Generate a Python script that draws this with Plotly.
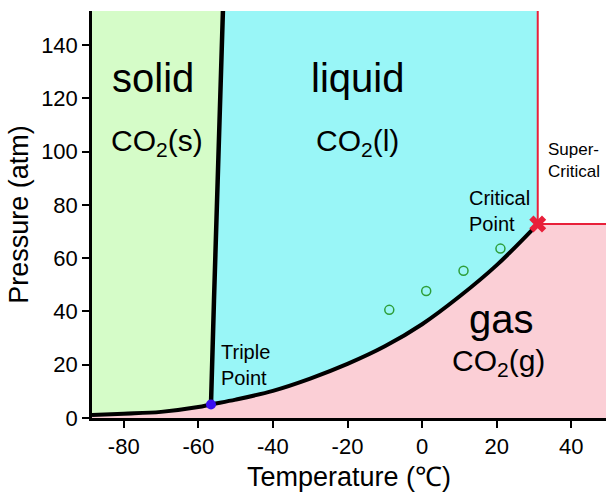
import plotly.graph_objects as go

# --- CO2 phase diagram data (temperature in °C, pressure in atm) ---
X_MIN, X_MAX = -88.5, 49.3
Y_MIN, Y_MAX = 0.0, 152.8

triple_T, triple_P = -56.6, 5.1
crit_T, crit_P = 31.0, 72.8

# solid / gas boundary (sublimation curve)
sub_T = [-88.5, -80, -70, -60, -56.6]
sub_P = [1.1, 1.6, 2.3, 4.1, 5.1]

# liquid / gas boundary (vaporization curve)
vap_T = [-56.6, -50, -40, -30, -20, -10, 0, 10, 20, 31]
vap_P = [5.1, 6.9, 10.2, 14.8, 20.3, 26.9, 35.2, 45.6, 57.4, 72.8]

# solid / liquid boundary (melting curve)
melt_T = [-56.6, -55.8, -53.4]
melt_P = [5.1, 44.0, 152.8]

# measured vapor-pressure points
meas_T = [-8.8, 1.1, 11.1, 21.0]
meas_P = [40.6, 47.7, 55.3, 63.6]

x_ticks = [-80, -60, -40, -20, 0, 20, 40]
y_ticks = [0, 20, 40, 60, 80, 100, 120, 140]

GREEN = "#d5fcc8"
CYAN = "#99f6f7"
PINK = "#fbcfd6"
RED = "#e8203a"
FONT = "Liberation Sans, Arial, sans-serif"

fig = go.Figure()

# gas region: below sublimation + vaporization curves, and below Pc past Tc
gas_x = sub_T + vap_T[1:] + [X_MAX + 5, X_MAX + 5, X_MIN - 5, X_MIN - 5]
gas_y = sub_P + vap_P[1:] + [crit_P, Y_MIN - 5, Y_MIN - 5, sub_P[0]]
fig.add_trace(go.Scatter(x=gas_x, y=gas_y, fill="toself", fillcolor=PINK,
                         mode="none", hoverinfo="skip"))

# solid region: left of melting curve, above sublimation curve
solid_x = [X_MIN - 5, X_MIN - 5] + sub_T[1:] + melt_T[1:] + [X_MIN - 5]
solid_y = [Y_MAX + 5, sub_P[0]] + sub_P[1:] + melt_P[1:] + [Y_MAX + 5]
fig.add_trace(go.Scatter(x=solid_x, y=solid_y, fill="toself", fillcolor=GREEN,
                         mode="none", hoverinfo="skip"))

# liquid region: between melting curve, vaporization curve and Tc
liq_x = melt_T + [crit_T] + vap_T[::-1]
liq_y = melt_P + [Y_MAX] + vap_P[::-1]
fig.add_trace(go.Scatter(x=liq_x, y=liq_y, fill="toself", fillcolor=CYAN,
                         mode="none", hoverinfo="skip"))

# supercritical boundaries
fig.add_trace(go.Scatter(x=[crit_T, crit_T], y=[crit_P, Y_MAX + 5], mode="lines",
                         line=dict(color=RED, width=2), hoverinfo="skip"))
fig.add_trace(go.Scatter(x=[crit_T, X_MAX + 5], y=[crit_P, crit_P], mode="lines",
                         line=dict(color=RED, width=2), hoverinfo="skip"))

# phase boundary curves
fig.add_trace(go.Scatter(x=sub_T + vap_T[1:], y=sub_P + vap_P[1:], mode="lines",
                         line=dict(color="black", width=4, shape="spline"),
                         hoverinfo="skip"))
fig.add_trace(go.Scatter(x=melt_T, y=melt_P, mode="lines",
                         line=dict(color="black", width=4.5, shape="spline"),
                         hoverinfo="skip"))

# measured points
fig.add_trace(go.Scatter(x=meas_T, y=meas_P, mode="markers",
                         marker=dict(symbol="circle-open", size=9,
                                     color="#2e9e3a", line=dict(width=1.5)),
                         hoverinfo="skip"))

# triple point and critical point
fig.add_trace(go.Scatter(x=[triple_T], y=[triple_P], mode="markers",
                         marker=dict(size=10, color="#3a10f0"),
                         hoverinfo="skip", cliponaxis=False))
fig.add_trace(go.Scatter(x=[crit_T], y=[crit_P], mode="markers",
                         marker=dict(symbol="x", size=15, color=RED),
                         hoverinfo="skip", cliponaxis=False))

def label(text, x, y, size, xanchor="center"):
    fig.add_annotation(x=x, y=y, text=text, showarrow=False, xanchor=xanchor,
                       yanchor="middle", align="left",
                       font=dict(family=FONT, size=size, color="black"))

label("solid", -72.1, 127.5, 40)
label("CO<sub>2</sub>(s)", -71.0, 103.5, 30)
label("liquid", -17.4, 127.5, 40)
label("CO<sub>2</sub>(l)", -17.4, 103.5, 30)
label("gas", 21.4, 37.0, 40)
label("CO<sub>2</sub>(g)", 20.4, 20.8, 30)
label("Triple<br>Point", -54.5, 20.0, 20, "left")
label("Critical<br>Point", 12.0, 77.8, 20, "left")
label("Super-<br>Critical", 33.3, 96.6, 17, "left")

axis_common = dict(showgrid=False, zeroline=False, ticks="outside", ticklen=7,
                   tickwidth=2, tickcolor="black", showline=True,
                   linecolor="black", linewidth=2.5,
                   tickfont=dict(family=FONT, size=22, color="black"))

fig.update_xaxes(range=[X_MIN, X_MAX], tickvals=x_ticks,
                 ticktext=[str(v) for v in x_ticks],
                 title=dict(text="Temperature (℃)", standoff=11,
                            font=dict(family=FONT, size=27, color="black")),
                 **axis_common)
fig.update_yaxes(range=[Y_MIN, Y_MAX], tickvals=y_ticks,
                 ticktext=[str(v) for v in y_ticks],
                 title=dict(text="Pressure (atm)", standoff=5,
                            font=dict(family=FONT, size=27, color="black")),
                 **axis_common)

fig.update_layout(width=606, height=492, showlegend=False,
                  plot_bgcolor="white", paper_bgcolor="white",
                  margin=dict(l=92, r=0, t=11, b=74))

fig.write_html("out.html")
